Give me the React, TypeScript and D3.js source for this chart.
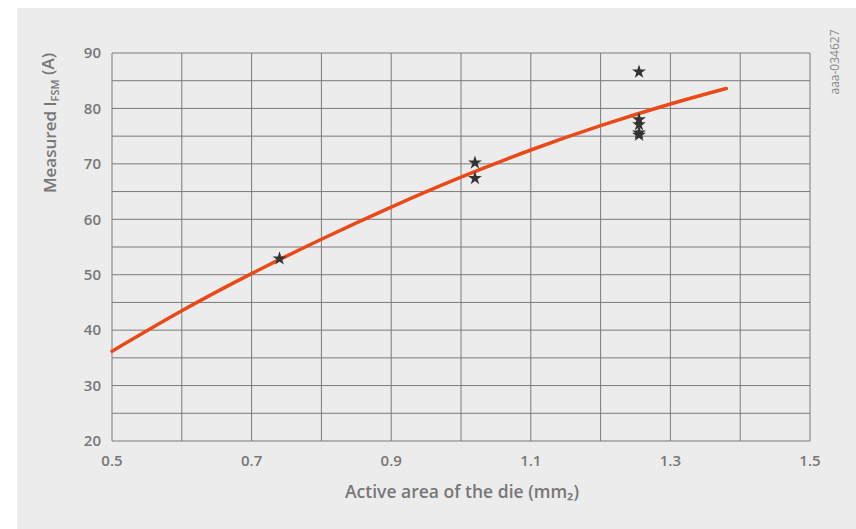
import React from "react";
import * as d3 from "d3";

const xTicks = [0.5, 0.7, 0.9, 1.1, 1.3, 1.5];
const yTicks = [20, 30, 40, 50, 60, 70, 80, 90];
const curveX = [0.5, 0.6, 0.7, 0.8, 0.9, 1.0, 1.1, 1.2, 1.3, 1.38];
const curveY = [36.2, 43.5, 50.2, 56.4, 62.2, 67.6, 72.5, 76.9, 80.8, 83.6];
const starX = [0.74, 1.02, 1.02, 1.255, 1.255, 1.255, 1.255, 1.255];
const starY = [52.9, 70.2, 67.4, 86.6, 78.0, 77.1, 75.6, 75.2];

const W = 856, H = 529;
const L = 112, R = 810, T = 53, B = 441;
const FONT = "'Open Sans', 'Noto Sans', sans-serif";

export default function App() {
  const x = d3.scaleLinear().domain([0.5, 1.5]).range([L, R]);
  const y = d3.scaleLinear().domain([20, 90]).range([B, T]);
  const xGrid = d3.range(0.5, 1.5001, 0.1);
  const yGrid = d3.range(20, 90.001, 5);
  const line = d3.line<number>().x((_, i) => x(curveX[i])).y((d) => y(d)).curve(d3.curveNatural);
  const star = d3.symbol().type(d3.symbolStar).size(60)();
  return (
    <svg width={W} height={H} style={{ position: "absolute", left: 0, top: 0 }}>
      <rect x={0} y={0} width={W} height={H} fill="#ffffff" />
      <rect x={17} y={8} width={W - 17} height={H - 8} fill="#ececec" />
      {xGrid.map((v, i) => (
        <line key={"xg" + i} x1={x(v)} x2={x(v)} y1={T} y2={B} stroke="#7a7a7a" strokeWidth={1} />
      ))}
      {yGrid.map((v, i) => (
        <line key={"yg" + i} x1={L} x2={R} y1={y(v)} y2={y(v)} stroke="#7a7a7a" strokeWidth={1} />
      ))}
      {yTicks.map((v) => (
        <text key={"yt" + v} x={101} y={y(v)} dy="0.35em" textAnchor="end" fontFamily={FONT} fontWeight={600} fontSize={15} fill="#777777">
          {v}
        </text>
      ))}
      {xTicks.map((v) => (
        <text key={"xt" + v} x={x(v)} y={461} dy="0.35em" textAnchor="middle" fontFamily={FONT} fontWeight={600} fontSize={15} fill="#777777">
          {v.toFixed(1)}
        </text>
      ))}
      <path d={line(curveY) || ""} fill="none" stroke="#ea4a17" strokeWidth={3.5} strokeLinecap="round" />
      {starX.map((v, i) => (
        <path key={"s" + i} d={star || ""} transform={`translate(${x(v)},${y(starY[i])})`} fill="#333333" />
      ))}
      <text x={462} y={492} dy="0.35em" textAnchor="middle" fontFamily={FONT} fontWeight={600} fontSize={17.5} fill="#777777">
        Active area of the die (mm₂)
      </text>
      <text transform={`translate(50,123) rotate(-90)`} dy="0.35em" textAnchor="middle" fontFamily={FONT} fontWeight={600} fontSize={17} fill="#777777">
        Measured I<tspan fontSize={11} dy="0.3em">FSM</tspan><tspan dy="-0.3em"> (A)</tspan>
      </text>
      <text transform={`translate(835,62) rotate(-90)`} dy="0.35em" textAnchor="middle" fontFamily={FONT} fontSize={12} fill="#8a8a8a">
        aaa-034627
      </text>
    </svg>
  );
}
